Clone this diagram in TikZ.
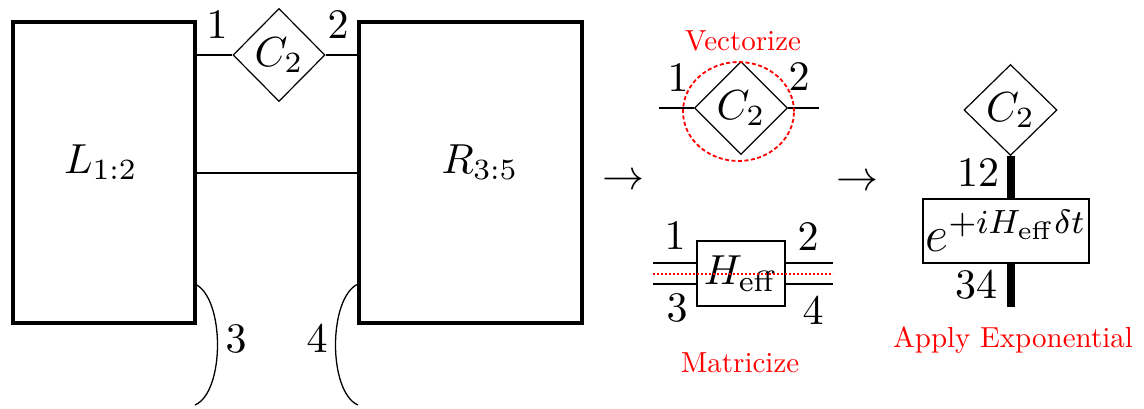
\RequirePackage{fix-cm}
\documentclass[tikz,border=0pt]{standalone}
\usetikzlibrary{shapes.geometric}
\newcommand{\bigtxt}[1]{\scalebox{4.2}{#1}}
\newcommand{\redtxt}[1]{\scalebox{2.9}{#1}}
\begin{document}
\begin{tikzpicture}[x=1pt,y=-1pt,
  lab/.style={inner sep=0pt},
  redlab/.style={text=red, inner sep=0pt, anchor=base},
  tbox/.style={draw, line width=4pt, inner sep=0pt},
  dia/.style={diamond, draw, line width=1.2pt, inner sep=0pt},
  conn/.style={line width=2pt},
  thinl/.style={line width=1.3pt},
  fat/.style={line width=8pt}]
\useasboundingbox (0,0) rectangle (1144,408);
% left part
\node[tbox, minimum width=182, minimum height=301] (L) at (104,172.5) {};
\node[lab] (Llab) at (101,162) {\bigtxt{$L_{1:2}$}};
\node[tbox, minimum width=223, minimum height=301] (R) at (470.5,172.5) {};
\node[lab] (Rlab) at (480,162) {\bigtxt{$R_{3:5}$}};
\node[dia, minimum width=92, minimum height=93] (C2a) at (279,55) {\bigtxt{$C_2$}};
\draw[conn] (C2a.west -| L.east) -- (C2a.west);
\draw[conn] (C2a.east) -- (C2a.east -| R.west);
\draw[conn] (L.east) -- (L.east -| R.west);
\node[lab] (n1a) at (217,25) {\bigtxt{$1$}};
\node[lab] (n2a) at (338,25) {\bigtxt{$2$}};
\coordinate (a3s) at (195,284);
\coordinate (a3e) at (195,405);
\coordinate (a4s) at (358,284);
\coordinate (a4e) at (358,405);
\draw[thinl] (a3s) .. controls (225,298) and (225,392) .. (a3e);
\draw[thinl] (a4s) .. controls (328,298) and (328,392) .. (a4e);
\node[lab] (n3a) at (236,339) {\bigtxt{$3$}};
\node[lab] (n4a) at (317,339) {\bigtxt{$4$}};
% arrows
\node[lab] (ar1) at (623,182) {\bigtxt{$\to$}};
\node[lab] (ar2) at (857,183) {\bigtxt{$\to$}};
% vectorize
\node[redlab] (vec) at (743,50) {\redtxt{Vectorize}};
\node[dia, minimum width=93, minimum height=93] (C2b) at (741,108) {\bigtxt{$C_2$}};
\coordinate (v1) at (659,108);
\coordinate (v2) at (819,108);
\draw[conn] (v1) -- (C2b.west);
\draw[conn] (C2b.east) -- (v2);
\node[ellipse, draw=red, line width=1.8pt, dash pattern=on 4pt off 2.5pt, inner sep=0pt, minimum width=111, minimum height=99] (circ) at (738.5,111.5) {};
\node[lab] (n1b) at (678,78) {\bigtxt{$1$}};
\node[lab] (n2b) at (799,77) {\bigtxt{$2$}};
% matricize
\node[draw, thinl, inner sep=0pt, minimum width=88, minimum height=65] (H) at (741,273.5) {\bigtxt{$H_{\mathrm{eff}}$}};
\coordinate (h1l) at (653,263);
\coordinate (h1r) at (833,263);
\coordinate (h2l) at (653,284);
\coordinate (h2r) at (833,284);
\coordinate (rl) at (653,274);
\coordinate (rr) at (833,274);
\draw[conn] (h1l) -- (h1l -| H.west);
\draw[conn] (h1r -| H.east) -- (h1r);
\draw[conn] (h2l) -- (h2l -| H.west);
\draw[conn] (h2r -| H.east) -- (h2r);
\draw[red, line width=1.6pt, dash pattern=on 2pt off 2pt] (rl) -- (rr);
\node[lab] (n1c) at (675,236) {\bigtxt{$1$}};
\node[lab] (n3c) at (677,308) {\bigtxt{$3$}};
\node[lab] (n2c) at (808,237) {\bigtxt{$2$}};
\node[lab] (n4c) at (813,311) {\bigtxt{$4$}};
\node[redlab] (mat) at (740,372) {\redtxt{Matricize}};
% exponential
\node[dia, minimum width=93, minimum height=91] (C2c) at (1010.5,110) {\bigtxt{$C_2$}};
\node[draw, thinl, inner sep=0pt, minimum width=166, minimum height=64] (E) at (1006,231) {\bigtxt{\large$e^{+iH_{\mathrm{eff}}\delta t}$}};
\coordinate (Ebot) at (1011,307);
\draw[fat] (C2c.south) -- (C2c.south |- E.north);
\draw[fat] (E.south -| Ebot) -- (Ebot);
\node[lab] (n12) at (978,173) {\bigtxt{$12$}};
\node[lab] (n34) at (976,285) {\bigtxt{$34$}};
\node[redlab] (app) at (1013,347) {\redtxt{Apply Exponential}};
\end{tikzpicture}
\end{document}
